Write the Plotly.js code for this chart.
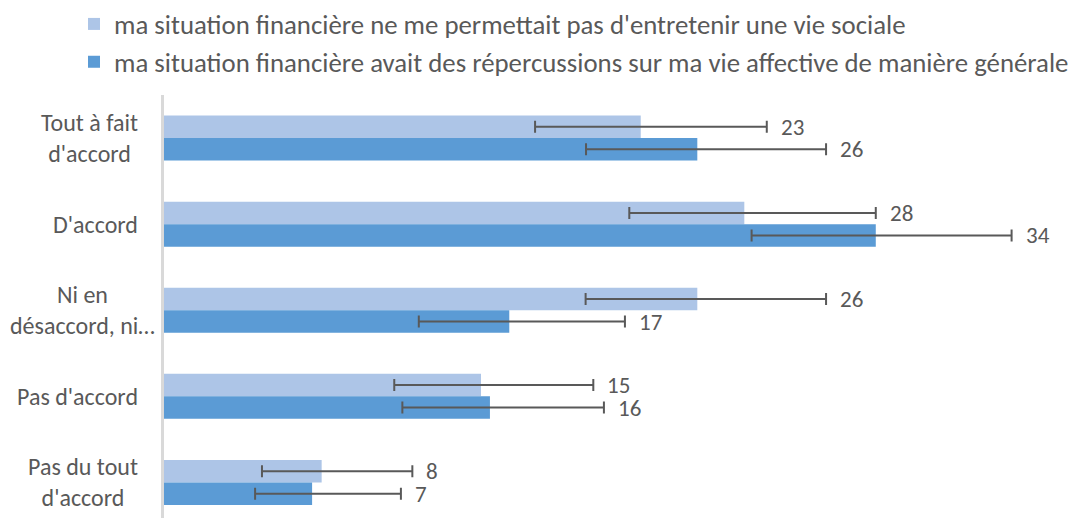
<!DOCTYPE html>
<html><head><meta charset="utf-8">
<script src="https://cdn.plot.ly/plotly-3.0.1.min.js"></script>
<style>html,body{margin:0;padding:0;background:#fff}#chart{width:1074px;height:518px}</style>
</head><body><div id="chart"></div>
<script>
const categories = ["Tout à fait d'accord", "D'accord", "Ni en désaccord, ni en accord", "Pas d'accord", "Pas du tout d'accord"];
const tickLabels = ["Tout à fait<br>d'accord", "D'accord", "Ni en<br>désaccord, ni…", "Pas d'accord", "Pas du tout<br>d'accord"];
const seriesNames = ["ma situation financière ne me permettait pas d'entretenir une vie sociale",
                     "ma situation financière avait des répercussions sur ma vie affective de manière générale"];
const socialValues = [22.92, 27.90, 25.64, 15.24, 7.58];
const socialLow    = [17.84, 22.37, 20.27, 11.07, 4.71];
const socialHigh   = [28.98, 34.22, 31.83, 20.64, 11.94];
const socialLabels = ["23", "28", "26", "15", "8"];
const affectValues = [25.64, 34.22, 16.60, 15.67, 7.12];
const affectLow    = [20.29, 28.25, 12.25, 11.46, 4.38];
const affectHigh   = [31.83, 40.75, 22.16, 21.15, 11.39];
const affectLabels = ["26", "34", "17", "16", "7"];

const FONT = "Calibri, Carlito, Lato, sans-serif";
const TXT = "#595959";
const colors = ["#ADC5E7", "#5B9BD5"];

function mkTrace(name, vals, lo, hi, color, grp) {
  return {
    type: "bar", orientation: "h", name: name, legendgroup: grp,
    y: categories, x: vals,
    marker: {color: color},
    error_x: {type: "data", symmetric: false,
      array: vals.map((v, i) => hi[i] - v),
      arrayminus: vals.map((v, i) => v - lo[i]),
      color: "#595959", thickness: 2, width: 6},
    hoverinfo: "x+name"
  };
}
const traces = [
  mkTrace(seriesNames[0], socialValues, socialLow, socialHigh, colors[0], "a"),
  mkTrace(seriesNames[1], affectValues, affectLow, affectHigh, colors[1], "b")
];

const annotations = [];
const labelShift = {2: 17};
categories.forEach((c, i) => {
  annotations.push({xref: "paper", yref: "y", x: 0, y: c, xanchor: "right", yanchor: "middle",
    xshift: -24 + (labelShift[i] || 0), text: tickLabels[i], showarrow: false, align: "center",
    font: {family: FONT, size: 24, color: TXT}});
  annotations.push({xref: "x", yref: "y", x: socialHigh[i], y: c, xanchor: "left", yanchor: "middle",
    xshift: 12, yshift: 11.25, text: socialLabels[i], showarrow: false,
    font: {family: FONT, size: 23, color: TXT}});
  annotations.push({xref: "x", yref: "y", x: affectHigh[i], y: c, xanchor: "left", yanchor: "middle",
    xshift: 12, yshift: -11.25, text: affectLabels[i], showarrow: false,
    font: {family: FONT, size: 23, color: TXT}});
});

const layout = {
  width: 1074, height: 518,
  margin: {l: 164, r: 16, t: 95, b: 0, autoexpand: false},
  paper_bgcolor: "#fff", plot_bgcolor: "#fff",
  barmode: "group", bargap: 0.477, bargroupgap: 0,
  font: {family: FONT, color: TXT, size: 22},
  showlegend: true,
  legend: {orientation: "v", traceorder: "grouped", tracegroupgap: 0,
    x: 74 / 1074, xref: "container", xanchor: "left",
    y: 1 + 3 / 518, yref: "container", yanchor: "top",
    bgcolor: "rgba(0,0,0,0)", font: {family: FONT, size: 26.8, color: TXT}},
  xaxis: {range: [0, 894 / 20.8], showgrid: false, zeroline: false, showline: false,
    showticklabels: false, ticks: "", fixedrange: true},
  yaxis: {type: "category", range: [4.413, -0.5], showgrid: false, zeroline: false,
    showline: true, linecolor: "#D9D9D9", linewidth: 3, showticklabels: false, ticks: "", fixedrange: true},
  annotations: annotations
};
Plotly.newPlot("chart", traces, layout, {displayModeBar: false, staticPlot: true});
</script></body></html>
